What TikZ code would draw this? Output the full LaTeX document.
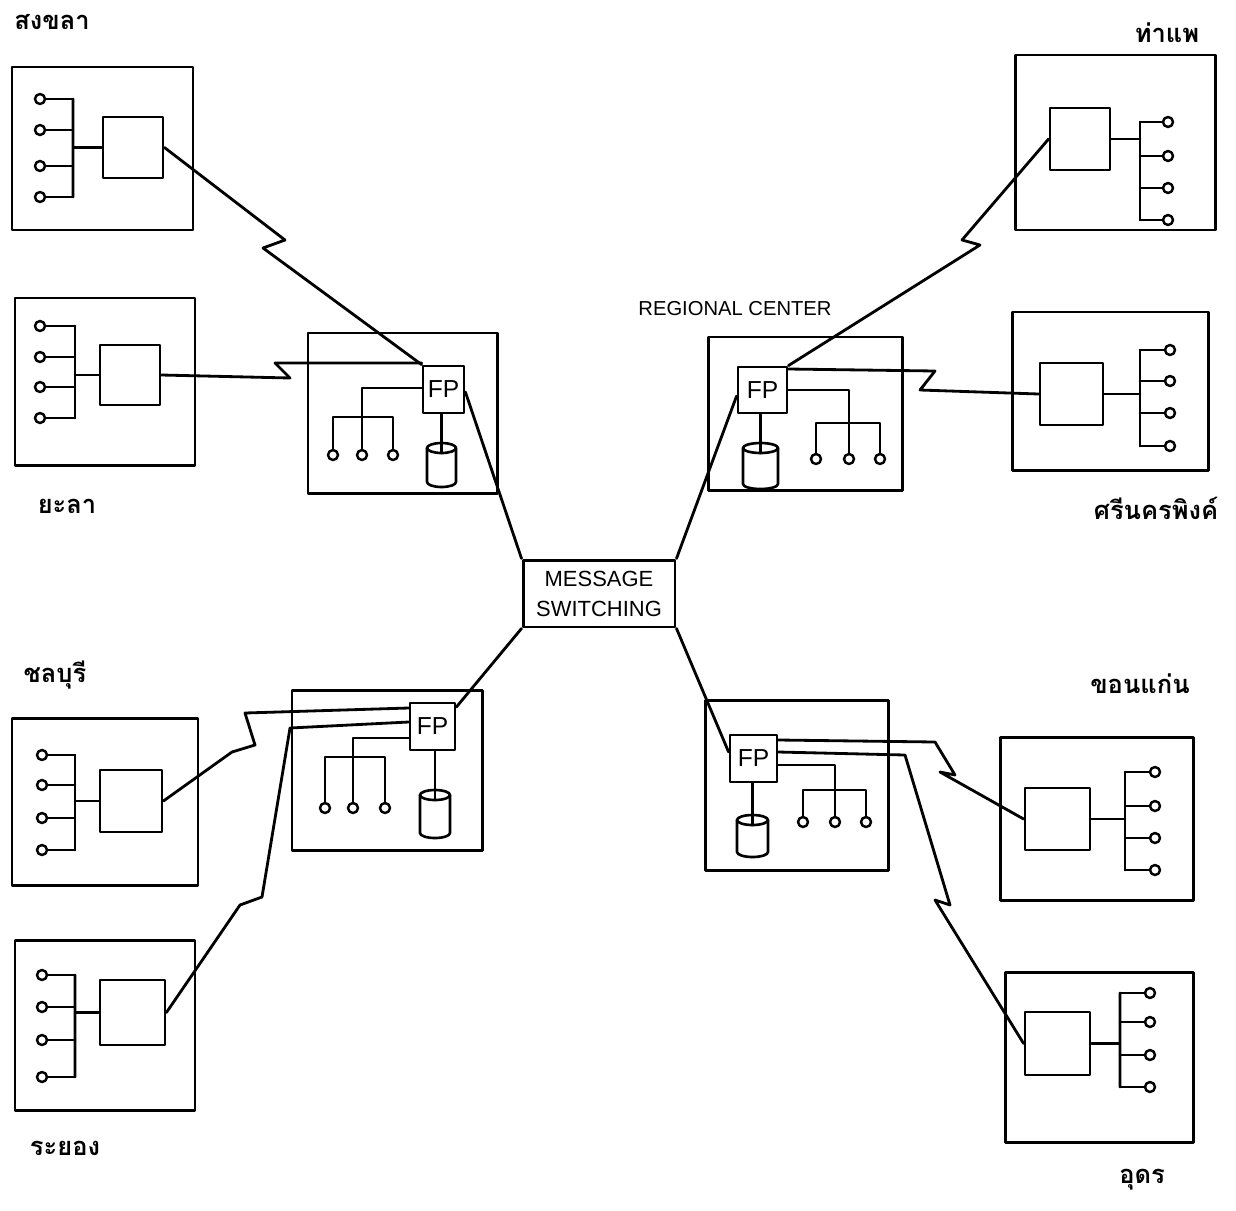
\documentclass[tikz,border=0pt]{standalone}
\usepackage{fontspec}
\setmainfont{Liberation Sans}
\newfontfamily\thaifont[Script=Thai]{Loma}
\usetikzlibrary{fit}
\begin{document}
\begin{tikzpicture}[x=0.02cm,y=-0.02cm, line width=1.5pt, line join=round, line cap=round,
 frame/.style={draw, inner sep=0pt, line width=1.7pt},
 box/.style={draw, inner sep=0pt, line width=1.6pt},
 fpbox/.style={draw, inner sep=0pt, line width=1.6pt, font=\fontsize{14}{16}\selectfont},
 term/.style={circle, draw, fill=white, inner sep=0pt, minimum size=0.2cm, line width=1.4pt},
 link/.style={line width=1.6pt},
 thai/.style={font=\thaifont\bfseries\fontsize{14.5}{17}\selectfont},
 lbl/.style={font=\fontsize{11.5}{13}\selectfont}]
\useasboundingbox[fill=white] (0,0) rectangle (1236,1210);

% cylinder drawn by hand: #1 name, #2 left x, #3 right x, #4 top y, #5 bottom y, #6 x radius (cm)
\newcommand\dbdraw[6]{%
  \coordinate (#1) at ({(#2+#3)/2},#4);
  \draw[line width=1.5pt] (#1) ellipse [x radius=#6cm, y radius=0.1cm];
  \draw[line width=1.5pt] (#2,#4) -- (#2,#5) arc [start angle=180, end angle=360, x radius=#6cm, y radius=0.1cm] -- (#3,#4);
}

% ---------------- left stations ----------------
% songkhla
\node[frame, fit={(12,67)(193,230)}] (s1f) {};
\node[box, fit={(103,117)(163,178)}] (s1b) {};
\foreach \i/\yy in {1/99,2/130,3/166,4/197}{\node[term] (s1t\i) at (40,\yy) {}; \draw (s1t\i) -- (73,\yy);}
\draw (73,99) -- (73,197) (73,147.5) -- (s1b.west);
% yala
\node[frame, fit={(15,298)(195,465)}] (s2f) {};
\node[box, fit={(100,345)(160,405)}] (s2b) {};
\foreach \i/\yy in {1/326,2/357,3/387,4/418}{\node[term] (s2t\i) at (40,\yy) {}; \draw (s2t\i) -- (75,\yy);}
\draw (75,326) -- (75,418) (75,375) -- (s2b.west);
% chonburi
\node[frame, fit={(12,718)(198,885)}] (s3f) {};
\node[box, fit={(100,770)(162,832)}] (s3b) {};
\foreach \i/\yy in {1/755,2/785,3/818,4/850}{\node[term] (s3t\i) at (42,\yy) {}; \draw (s3t\i) -- (75,\yy);}
\draw (75,755) -- (75,850) (75,801) -- (s3b.west);
% rayong
\node[frame, fit={(15,940)(195,1110)}] (s4f) {};
\node[box, fit={(100,980)(165,1045)}] (s4b) {};
\foreach \i/\yy in {1/975,2/1007,3/1040,4/1077}{\node[term] (s4t\i) at (42,\yy) {}; \draw (s4t\i) -- (75,\yy);}
\draw (75,975) -- (75,1077) (75,1012.5) -- (s4b.west);

% ---------------- right stations ----------------
% tha phae
\node[frame, fit={(1015,55)(1215,230)}] (r1f) {};
\node[box, fit={(1050,108)(1110,170)}] (r1b) {};
\foreach \i/\yy in {1/122,2/156,3/188,4/220}{\node[term] (r1t\i) at (1168,\yy) {}; \draw (r1t\i) -- (1140,\yy);}
\draw (1140,122) -- (1140,220) (1140,139) -- (r1b.east);
% si nakhon ping
\node[frame, fit={(1012,312)(1208,470)}] (r2f) {};
\node[box, fit={(1040,363)(1103,425)}] (r2b) {};
\foreach \i/\yy in {1/350,2/381,3/413,4/446}{\node[term] (r2t\i) at (1170,\yy) {}; \draw (r2t\i) -- (1140,\yy);}
\draw (1140,350) -- (1140,446) (1140,394) -- (r2b.east);
% khon kaen
\node[frame, fit={(1000,737)(1193,900)}] (r3f) {};
\node[box, fit={(1025,788)(1090,850)}] (r3b) {};
\foreach \i/\yy in {1/772,2/806,3/838,4/870}{\node[term] (r3t\i) at (1155,\yy) {}; \draw (r3t\i) -- (1125,\yy);}
\draw (1125,772) -- (1125,870) (1125,819) -- (r3b.east);
% udon
\node[frame, fit={(1005,972)(1193,1142)}] (r4f) {};
\node[box, fit={(1025,1012)(1090,1075)}] (r4b) {};
\foreach \i/\yy in {1/993,2/1022,3/1055,4/1087}{\node[term] (r4t\i) at (1150,\yy) {}; \draw (r4t\i) -- (1120,\yy);}
\draw (1120,993) -- (1120,1087) (1120,1043.5) -- (r4b.east);

% ---------------- regional centers ----------------
% top left
\node[frame, fit={(308,333)(497,493)}] (c1f) {};
\node[fpbox, minimum width=0.82cm, minimum height=0.94cm] (fp1) at (443.5,389.5) {FP};
\dbdraw{d1}{427}{456}{448}{482}{0.29}
\draw (fp1.south -| d1) -- ([yshift=-0.1cm]d1);
\foreach \i/\xx in {1/333,2/362,3/393}{\node[term] (c1t\i) at (\xx,455) {};}
\draw (fp1.west |- 0,388) -- (362,388) -- (c1t2);
\draw (c1t1) -- (333,417) -- (393,417) -- (c1t3);
% top right
\node[frame, fit={(708,337)(902,490)}] (c2f) {};
\node[fpbox, minimum width=0.98cm, minimum height=0.92cm] (fp2) at (762.5,390) {FP};
\dbdraw{d2}{743}{778}{448}{484}{0.35}
\draw (fp2.south -| d2) -- ([yshift=-0.1cm]d2);
\foreach \i/\xx in {1/816,2/849,3/880}{\node[term] (c2t\i) at (\xx,459) {};}
\draw (fp2.east |- 0,390) -- (849,390) -- (c2t2);
\draw (c2t1) -- (816,423) -- (880,423) -- (c2t3);
% bottom left
\node[frame, fit={(292,690)(482,850)}] (c3f) {};
\node[fpbox, minimum width=0.9cm, minimum height=0.94cm] (fp3) at (432.5,726.5) {FP};
\dbdraw{d3}{420}{450}{795}{833}{0.3}
\draw (fp3.south -| d3) -- ([yshift=-0.1cm]d3);
\foreach \i/\xx in {1/325,2/353,3/385}{\node[term] (c3t\i) at (\xx,808) {};}
\draw (fp3.west |- 0,738) -- (353,738) -- (c3t2);
\draw (c3t1) -- (325,757) -- (385,757) -- (c3t3);
% bottom right
\node[frame, fit={(705,700)(888,870)}] (c4f) {};
\node[fpbox, minimum width=0.94cm, minimum height=0.94cm] (fp4) at (753.5,758.5) {FP};
\dbdraw{d4}{737}{768}{820}{852}{0.31}
\draw (fp4.south -| d4) -- ([yshift=-0.1cm]d4);
\foreach \i/\xx in {1/803,2/835,3/866}{\node[term] (c4t\i) at (\xx,822) {};}
\draw (fp4.east |- 0,765) -- (835,765) -- (c4t2);
\draw (c4t1) -- (803,790) -- (866,790) -- (c4t3);

% ---------------- message switching ----------------
\node[frame, minimum width=3.04cm, minimum height=1.34cm, align=center,
      font=\fontsize{12.5}{17}\selectfont] (ms) at (599,593.5) {MESSAGE\\SWITCHING};
\draw[link] (ms.north west) -- (fp1.east |- 0,392);
\draw[link] (ms.north east) -- (fp2.west |- 0,396);
\draw[link] (ms.south west) -- (fp3.east |- 0,707);
\draw[link] (ms.south east) -- (fp4.west |- 0,752);

% ---------------- station links ----------------
\draw[link] (s1b.east) -- (285,240) -- (263,248) -- (fp1.north west);
\draw[link] (s2b.east) -- (290,378) -- (275,363) -- (fp1.west |- 0,363);
\draw[link] (fp2.north east) -- (980,245) -- (962,240) -- (r1b.west);
\draw[link] (fp2.east |- 0,369) -- (935,371) -- (920,390) -- (r2b.west);
\draw[link] (fp3.west |- 0,708) -- (245,713) -- (255,745) -- (232,752) -- (s3b.east);
\draw[link] (fp3.west |- 0,722) -- (290,728) -- (262,897) -- (240,905) -- (s4b.east);
\draw[link] (fp4.east |- 0,740) -- (935,742) -- (955,775) -- (940,772) -- (r3b.west);
\draw[link] (fp4.east |- 0,752) -- (905,755) -- (950,905) -- (935,900) -- (r4b.west);

% ---------------- labels ----------------
\node[thai] (lsk) at (52,22) {สงขลา};
\node[thai] (ltp) at (1167,33) {ท่าแพ};
\node[thai] (lyl) at (67,506) {ยะลา};
\node[thai] (lsn) at (1156,508) {ศรีนครพิงค์};
\node[thai] (lcb) at (55,675) {ชลบุรี};
\node[thai] (lkk) at (1140,684) {ขอนแก่น};
\node[thai] (lry) at (65,1148) {ระยอง};
\node[thai] (lud) at (1142,1180) {อุดร};
\node[lbl] (lrc) at (735,309) {REGIONAL CENTER};
\end{tikzpicture}
\end{document}
